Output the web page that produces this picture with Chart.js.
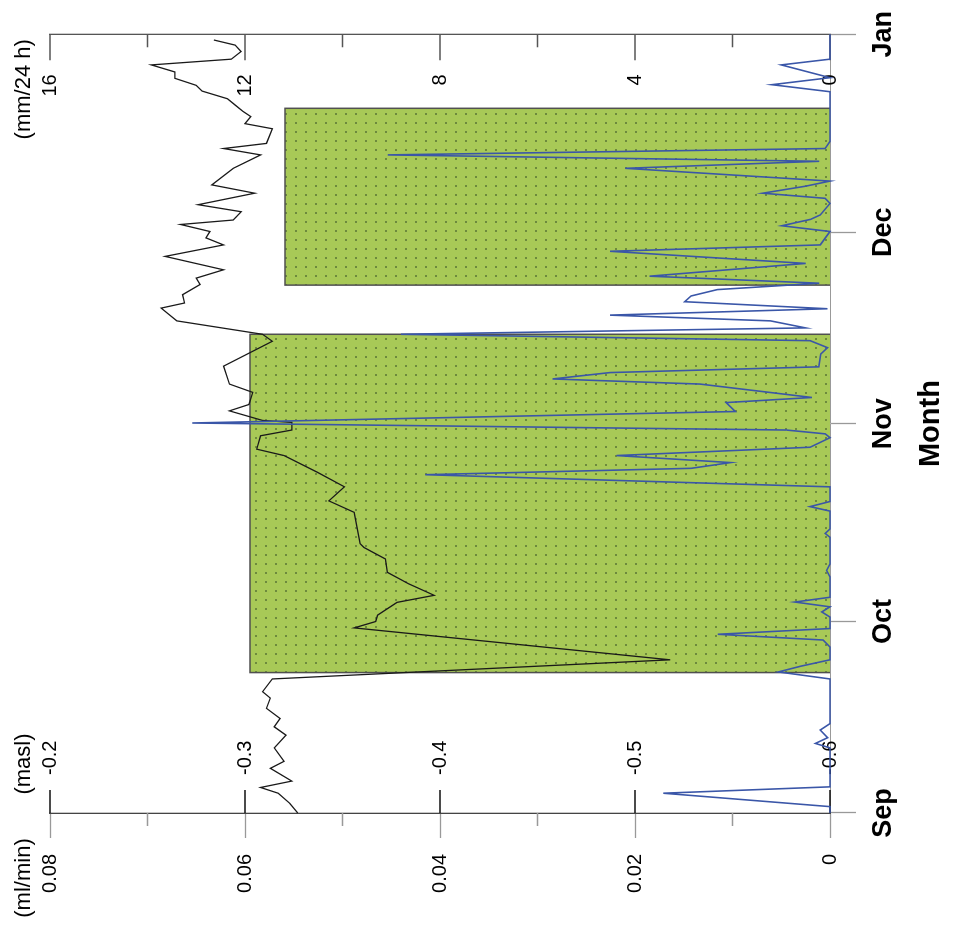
<!DOCTYPE html>
<html>
<head>
<meta charset="utf-8">
<title>Month chart</title>
<script src="https://cdn.jsdelivr.net/npm/chart.js"></script>
<style>
  html,body{margin:0;padding:0;background:#fff}
  #wrap{position:relative;width:959px;height:929px;overflow:hidden}
  /* chart is drawn upright, then turned a quarter turn left like the source figure */
  #c{position:absolute;left:0;top:0;transform-origin:0 0;transform:translate(0,929px) rotate(-90deg)}
</style>
</head>
<body>
<div id="wrap"><canvas id="c" width="929" height="959"></canvas></div>
<script>
/* ====================== DATA ====================== */
// time axis: days after 1 Sep
const monthLabels = ['Sep','Oct','Nov','Dec','Jan'];
const monthDays   = [0, 30, 61, 91, 122];

const mlTicks   = [0, 0.02, 0.04, 0.06, 0.08];
const mlMinor   = [0.01, 0.03, 0.05, 0.07];
const maslTicks = [-0.6, -0.5, -0.4, -0.3, -0.2];
const mmTicks   = [0, 4, 8, 12, 16];
const mmMinor   = [2, 6, 10, 14];
const units     = ['(ml/min)', '(masl)', '(mm/24 h)'];

// shaded periods (ml/min)
const periodStart = [22.0, 82.7];
const periodEnd   = [75.0, 110.4];
const periodRate  = [0.0595, 0.0559];

// water level (masl)
const blackDay  = [0,1.5,3.1,4.0,5.0,7.0,8.1,10.2,12.2,13.5,14.8,16.4,18.0,19.0,21.0,24.0,29.0,30.0,31.0,33.0,
  34.1,35.9,37.7,39.8,41.6,42.2,47.1,48.9,51.1,53.4,56.0,57.0,59.1,60.0,61.2,61.5,63.0,64.0,65.9,67.2,
  70.0,73.9,75.0,77.1,79.1,79.9,81.2,82.8,83.8,85.1,87.2,89.0,90.1,91.1,92.2,92.9,94.2,95.3,97.1,98.4,
  101.0,103.1,104.1,104.9,107.2,108.0,109.1,109.9,110.9,111.9,113.1,114.0,115.1,116.1,117.2,118.1,119.3,120.3,121.1];
const blackMasl = [-0.327,-0.323,-0.317,-0.308,-0.324,-0.313,-0.320,-0.315,-0.321,-0.315,-0.318,-0.311,-0.313,-0.309,-0.314,-0.518,-0.356,-0.367,-0.368,-0.378,
  -0.397,-0.384,-0.373,-0.372,-0.361,-0.359,-0.356,-0.343,-0.351,-0.337,-0.320,-0.306,-0.308,-0.324,-0.324,-0.309,-0.292,-0.302,-0.304,-0.292,
  -0.289,-0.314,-0.309,-0.265,-0.257,-0.269,-0.268,-0.277,-0.275,-0.289,-0.259,-0.289,-0.280,-0.282,-0.267,-0.294,-0.298,-0.276,-0.305,-0.283,
  -0.294,-0.308,-0.289,-0.311,-0.314,-0.300,-0.303,-0.299,-0.295,-0.291,-0.278,-0.275,-0.264,-0.264,-0.252,-0.293,-0.298,-0.295,-0.284];

// rainfall (mm/24 h)
const blueDay = [0,1.0,3.1,4.1,10.2,10.9,11.8,13.0,14.0,21.0,22.1,23.0,24.0,26.0,27.1,28.0,28.9,30.7,31.5,32.3,
  33.05,33.8,37.0,38.0,39.0,43.2,43.8,44.5,47.3,48.0,48.8,51.1,53.0,54.0,54.9,56.0,57.3,58.8,59.4,60.0,
  61.1,62.9,64.3,65.1,67.2,68.0,69.0,69.9,71.9,72.9,74.0,75.0,76.0,77.1,78.0,79.0,80.1,81.0,82.0,83.0,
  84.1,86.1,88.0,89.0,91.1,92.0,93.0,93.7,95.5,96.3,97.1,98.2,99.0,101.0,102.1,103.1,104.1,105.2,113.0,114.1,
  115.2,117.2,118.1,122];
const blueMm = [0,0,3.42,0,0,0.30,0.05,0.20,0,0,1.06,0.60,0,0,0.14,2.30,0,0,0.17,0,
  0.72,0,0,0.07,0,0,0.10,0,0,0.41,0,0,8.30,2.85,2.04,4.38,0.41,0,0.10,0.90,
  13.08,1.94,2.13,0.37,2.67,5.69,4.51,0.23,0.19,0.05,0.41,8.80,0.50,1.22,4.51,0.05,2.98,2.85,2.31,0.22,
  3.70,0.50,4.51,0.20,0,0.99,0.40,0.20,0,0.10,1.38,0.50,0,4.20,0.22,9.07,0.10,0,0,1.19,
  0,1.00,0,0];

/* ====================== STYLE ====================== */
const FONT = '"Liberation Sans", Arial, Helvetica, sans-serif';
Chart.defaults.font.family = FONT;
Chart.defaults.color = '#000';

const cv = document.getElementById('c');
function dotPattern(){
  const t = document.createElement('canvas'); t.width = 9; t.height = 10;
  const g = t.getContext('2d');
  g.fillStyle = '#a8c957'; g.fillRect(0,0,9,10);
  g.fillStyle = 'rgba(60,85,40,0.55)'; g.fillRect(4,5,2,2);
  return cv.getContext('2d').createPattern(t,'repeat');
}
const fillPat = dotPattern();

const pts = (xs, ys) => xs.map((x,i)=>({x, y: ys[i]}));
const periods = periodStart.map((s,i)=>({
  data:[{x:s,y:0},{x:s,y:periodRate[i]},{x:periodEnd[i],y:periodRate[i]},{x:periodEnd[i],y:0}],
  yAxisID:'yMl', fill:'origin', backgroundColor:fillPat, borderColor:'#505050', borderWidth:1.5,
  pointRadius:0, tension:0, order:3, clip:false
}));

/* ====================== PLUGINS ====================== */
// inward tick marks and minor ticks
const marks = {
  id:'marks',
  beforeDatasetsDraw(chart){
    const {ctx, chartArea:a, scales:s} = chart;
    const tick = (scale, vals, x0, len, color) => {
      ctx.save(); ctx.strokeStyle = color; ctx.lineWidth = 1.3; ctx.beginPath();
      vals.forEach(v=>{ const y = scale.getPixelForValue(v); ctx.moveTo(x0,y); ctx.lineTo(x0+len,y); });
      ctx.stroke(); ctx.restore();
    };
    tick(s.yMasl, maslTicks, a.left, 23, '#111');
    tick(s.yMl, mlMinor, a.left, -13, '#999');
    tick(s.yMm, mmTicks, a.right, -26, '#555');
    tick(s.yMm, mmMinor, a.right, -13, '#555');
  }
};
// unit captions above each value column
const unitLabels = {
  id:'unitLabels',
  afterDraw(chart){
    const {ctx, chartArea:a} = chart;
    ctx.save();
    ctx.font = '22px ' + FONT; ctx.fillStyle = '#000';
    ctx.textAlign = 'center'; ctx.textBaseline = 'middle';
    const y = a.top - 26;
    ctx.fillText(units[0], a.left - 65, y);
    ctx.fillText(units[1], a.left + 49, y);
    ctx.fillText(units[2], a.right - 55, y);
    ctx.restore();
  }
};

/* ====================== CHART ====================== */
new Chart(cv, {
  type:'line',
  data:{ datasets:[
    { data:pts(blueDay, blueMm), yAxisID:'yMm', borderColor:'#3a56a8', borderWidth:1.6,
      pointRadius:0, tension:0, fill:false, order:1, clip:false },
    { data:pts(blackDay, blackMasl), yAxisID:'yMasl', borderColor:'#1a1a1a', borderWidth:1.3,
      pointRadius:0, tension:0, fill:false, order:2, clip:false },
    ...periods
  ]},
  options:{
    responsive:false, animation:false, devicePixelRatio:1,
    layout:{ padding:{ top:49.3, left:0, right:0, bottom:0 } },
    plugins:{ legend:{display:false}, tooltip:{enabled:false} },
    scales:{
      x:{
        type:'linear', position:'bottom', min:0, max:122,
        afterBuildTicks: s => { s.ticks = monthDays.map(v=>({value:v})); },
        afterFit: s => { s.height = 129; },
        ticks:{ autoSkip:false, maxRotation:0, padding:11, font:{size:27, weight:'bold'},
                callback:(v,i)=>monthLabels[i] },
        grid:{ drawOnChartArea:false, tickLength:26, tickColor:'#999', tickWidth:1.3 },
        border:{ display:true, color:'#999', width:1 },
        title:{ display:true, text:'Month', font:{size:29, weight:'bold'}, padding:{top:0, bottom:11} }
      },
      yMl:{
        type:'linear', position:'left', weight:1, min:0, max:0.08,
        afterBuildTicks: s => { s.ticks = mlTicks.map(v=>({value:v})); },
        afterFit: s => { s.width = 116; },
        ticks:{ padding:16, font:{size:20}, callback:v => v === 0 ? '0' : v.toFixed(2) },
        grid:{ drawOnChartArea:false, tickLength:25, tickColor:'#999', tickWidth:1.3 },
        border:{ display:true, color:'#444', width:1.3 }
      },
      yMasl:{
        type:'linear', position:'left', weight:0, min:-0.6, max:-0.2,
        afterBuildTicks: s => { s.ticks = maslTicks.map(v=>({value:v})); },
        afterFit: s => { s.width = 0; },
        ticks:{ mirror:true, padding:38, font:{size:20}, callback:v => v.toFixed(1) },
        grid:{ display:false },
        border:{ display:false }
      },
      yMm:{
        type:'linear', position:'right', min:0, max:16,
        afterBuildTicks: s => { s.ticks = mmTicks.map(v=>({value:v})); },
        afterFit: s => { s.width = 32; },
        ticks:{ mirror:true, padding:-40, font:{size:20}, callback:v => String(v) },
        grid:{ display:false },
        border:{ display:true, color:'#555', width:1.3 }
      }
    }
  },
  plugins:[marks, unitLabels]
});
</script>
</body>
</html>
